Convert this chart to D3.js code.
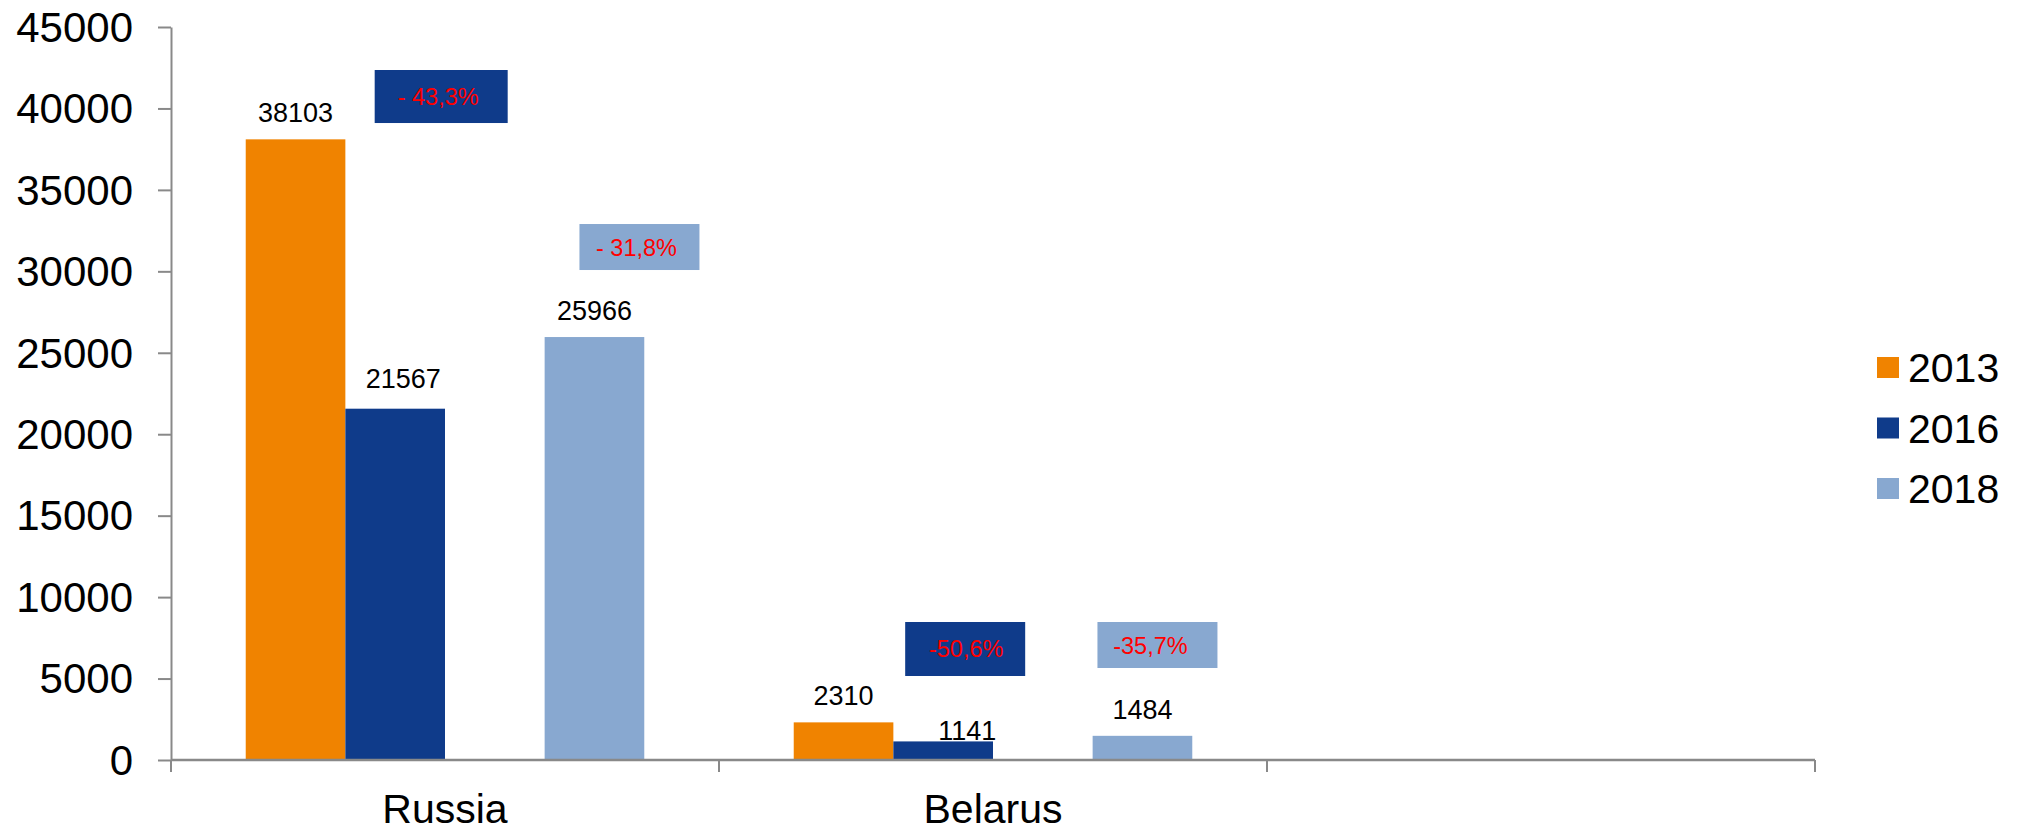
<!DOCTYPE html>
<html>
<head>
<meta charset="utf-8">
<script src="https://cdn.jsdelivr.net/npm/d3@7"></script>
<style>
  html, body { margin: 0; padding: 0; background: #ffffff; }
  svg { display: block; font-family: "Liberation Sans", Arial, sans-serif; }
</style>
</head>
<body>
<svg id="chart" width="2026" height="828"></svg>
<script>
// Categories and series
const categories = ["Russia", "Belarus", ""];
const seriesKeys = ["2013", "2016", "2018"];
const values2013 = [38103, 2310];
const values2016 = [21567, 1141];
const values2018 = [25966, 1484];
const yTicks = [0, 5000, 10000, 15000, 20000, 25000, 30000, 35000, 40000, 45000];

// Change callouts: category, series box colour, text
const calloutCategory = ["Russia", "Russia", "Belarus", "Belarus"];
const calloutSeries = ["2016", "2018", "2016", "2018"];
const calloutText = ["- 43,3%", "- 31,8%", "-50,6%", "-35,7%"];

const colors = { "2013": "#F08300", "2016": "#0F3B8A", "2018": "#88A8D0" };

const seriesValues = { "2013": values2013, "2016": values2016, "2018": values2018 };
const rows = [];
seriesKeys.forEach(k => {
  seriesValues[k].forEach((v, i) => rows.push({ cat: categories[i], key: k, value: v }));
});

const svg = d3.select("#chart");
const plot = { left: 171, right: 1815, top: 27, bottom: 760 };

const x = d3.scaleBand().domain(categories).range([plot.left, plot.right]).padding(0);
// the third slot inside each group stays empty, 2018 sits in the fourth
const xSub = d3.scaleBand().domain(["2013", "2016", "slot", "2018"])
  .range([0, x.bandwidth()]).paddingInner(0).paddingOuter(0.75);
const y = d3.scaleLinear().domain([0, 45000]).range([plot.bottom, plot.top]);

const axisGray = "#898989";

// Bars
svg.append("g").selectAll("rect").data(rows).join("rect")
  .attr("x", d => x(d.cat) + xSub(d.key))
  .attr("y", d => y(d.value))
  .attr("width", xSub.bandwidth())
  .attr("height", d => y(0) - y(d.value))
  .attr("fill", d => colors[d.key]);

// Y axis
const yAxis = svg.append("g")
  .attr("transform", `translate(${plot.left},0)`)
  .call(d3.axisLeft(y).tickValues(yTicks).tickSize(13).tickSizeOuter(0).tickPadding(25).tickFormat(d3.format("d")));
yAxis.select(".domain").attr("stroke", axisGray).attr("stroke-width", 2);
yAxis.selectAll(".tick line").attr("stroke", axisGray).attr("stroke-width", 2);
yAxis.selectAll(".tick text").attr("fill", "#000").style("font-size", "42px")
  .attr("dy", "0.34em");

// X axis: baseline plus ticks on the category boundaries
const xAxis = svg.append("g").attr("transform", `translate(0,${plot.bottom})`);
xAxis.append("line")
  .attr("x1", plot.left).attr("x2", plot.right)
  .attr("stroke", axisGray).attr("stroke-width", 2.5);
const edges = categories.map(c => x(c)).concat([x(categories[categories.length - 1]) + x.bandwidth()]);
xAxis.selectAll("line.edge").data(edges).join("line")
  .attr("class", "edge")
  .attr("x1", d => d).attr("x2", d => d)
  .attr("y1", 0).attr("y2", 12)
  .attr("stroke", axisGray).attr("stroke-width", 2);
xAxis.selectAll("text").data(categories).join("text")
  .attr("x", d => x(d) + x.bandwidth() / 2)
  .attr("y", 63)
  .attr("text-anchor", "middle")
  .style("font-size", "41px")
  .attr("fill", "#000")
  .text(d => d);

// Value labels above bars (a couple nudged sideways by hand)
const labelNudge = { "Russia|2016": [8, -4], "Belarus|2016": [24, 16] };
svg.append("g").selectAll("text").data(rows).join("text")
  .attr("x", d => x(d.cat) + xSub(d.key) + xSub.bandwidth() / 2 + ((labelNudge[d.cat + "|" + d.key] || [0, 0])[0]))
  .attr("y", d => y(d.value) - 17 + ((labelNudge[d.cat + "|" + d.key] || [0, 0])[1]))
  .attr("text-anchor", "middle")
  .style("font-size", "27px")
  .attr("fill", "#000")
  .text(d => d.value);

// Percentage change callouts: box placement in value units, offsets from the bar slot centre
const calloutLayout = [
  { dx: 46, top: 42360, bottom: 39105, w: 133, tdx: -3 },
  { dx: 45, top: 32905, bottom: 30081, w: 120, tdx: -3 },
  { dx: 22, top: 8472, bottom: 5157, w: 120, tdx: 1 },
  { dx: 15, top: 8472, bottom: 5648, w: 120, tdx: -7 }
];
const callouts = calloutText.map((t, i) => ({
  text: t, cat: calloutCategory[i], key: calloutSeries[i], lay: calloutLayout[i]
}));
const cg = svg.append("g").selectAll("g").data(callouts).join("g")
  .attr("transform", d => {
    const cx = x(d.cat) + xSub(d.key) + xSub.bandwidth() / 2 + d.lay.dx;
    return `translate(${cx},0)`;
  });
cg.append("rect")
  .attr("x", d => -d.lay.w / 2)
  .attr("y", d => y(d.lay.top))
  .attr("width", d => d.lay.w)
  .attr("height", d => y(d.lay.bottom) - y(d.lay.top))
  .attr("fill", d => colors[d.key]);
cg.append("text")
  .attr("x", d => d.lay.tdx)
  .attr("y", d => (y(d.lay.top) + y(d.lay.bottom)) / 2 + 8.5)
  .attr("text-anchor", "middle")
  .style("font-size", "23.5px")
  .attr("fill", "#FF0000")
  .text(d => d.text);

// Legend
const legend = svg.append("g").attr("transform", "translate(1877,357)");
const li = legend.selectAll("g").data(seriesKeys).join("g")
  .attr("transform", (d, i) => `translate(0,${i * 60.5})`);
li.append("rect").attr("width", 22).attr("height", 21).attr("fill", d => colors[d]);
li.append("text").attr("x", 31).attr("y", 25)
  .style("font-size", "41px").attr("fill", "#000").text(d => d);
</script>
</body>
</html>
